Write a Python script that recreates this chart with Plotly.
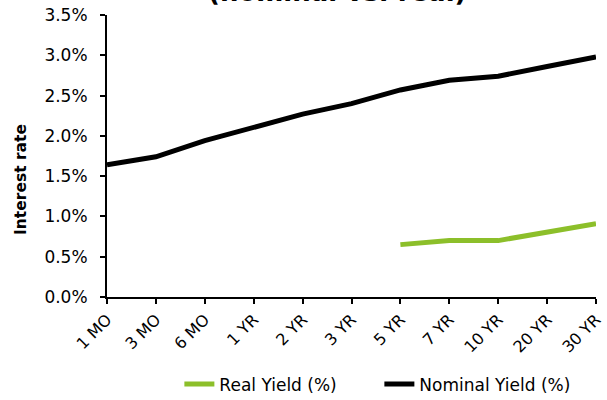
import plotly.graph_objects as go

categories = ["1 MO", "3 MO", "6 MO", "1 YR", "2 YR", "3 YR", "5 YR", "7 YR", "10 YR", "20 YR", "30 YR"]
nominal_yield = [1.64, 1.74, 1.94, 2.10, 2.27, 2.40, 2.57, 2.69, 2.74, 2.86, 2.98]
real_yield = [None, None, None, None, None, None, 0.65, 0.70, 0.70, 0.81, 0.91]
y_ticks = [0.0, 0.5, 1.0, 1.5, 2.0, 2.5, 3.0, 3.5]
y_tick_labels = ["0.0%", "0.5%", "1.0%", "1.5%", "2.0%", "2.5%", "3.0%", "3.5%"]

FONT = "DejaVu Sans"

fig = go.Figure()
fig.add_trace(go.Scatter(x=categories, y=real_yield, mode="lines", name="Real Yield (%)",
                         line=dict(color="#8CBF2A", width=5), connectgaps=False))
fig.add_trace(go.Scatter(x=categories, y=nominal_yield, mode="lines", name="Nominal Yield (%)",
                         line=dict(color="#000000", width=5)))

fig.update_layout(
    width=607, height=400,
    margin=dict(l=107, r=11, t=15, b=103, autoexpand=False),
    paper_bgcolor="white", plot_bgcolor="white",
    font=dict(family=FONT, color="#000000"),
    showlegend=True,
    legend=dict(orientation="h", x=0.148, xanchor="left", y=-0.31, yanchor="middle",
                font=dict(size=17, family=FONT), traceorder="normal", entrywidth=155),
    annotations=[
        dict(text="<b>(nominal vs. real)</b>", xref="paper", yref="paper",
             x=0.47, y=1.0, yanchor="bottom", xanchor="center",
             yshift=6, showarrow=False, font=dict(size=26, family=FONT)),
        dict(text="<b>Interest rate</b>", xref="paper", yref="paper",
             x=0, y=0.415, xanchor="center", yanchor="middle", xshift=-86,
             textangle=-90, showarrow=False, font=dict(size=15.5, family=FONT)),
    ],
)
fig.update_xaxes(type="category", range=[0, 10], showline=True, linecolor="black", linewidth=2,
                 ticks="outside", ticklen=5, tickwidth=2, tickcolor="black",
                 tickangle=-45, tickfont=dict(size=16, family=FONT), showgrid=False, zeroline=False)
fig.update_yaxes(range=[0, 3.5], tickvals=y_ticks, ticktext=y_tick_labels, showline=True,
                 linecolor="black", linewidth=2, ticks="outside", ticklen=5, tickwidth=2,
                 tickcolor="black", tickfont=dict(size=17, family=FONT), showgrid=False,
                 zeroline=False, ticklabelstandoff=9)

fig.write_html("out.html", config={"displayModeBar": False},
               post_script="document.body.style.margin='0';document.body.style.overflow='hidden';")
